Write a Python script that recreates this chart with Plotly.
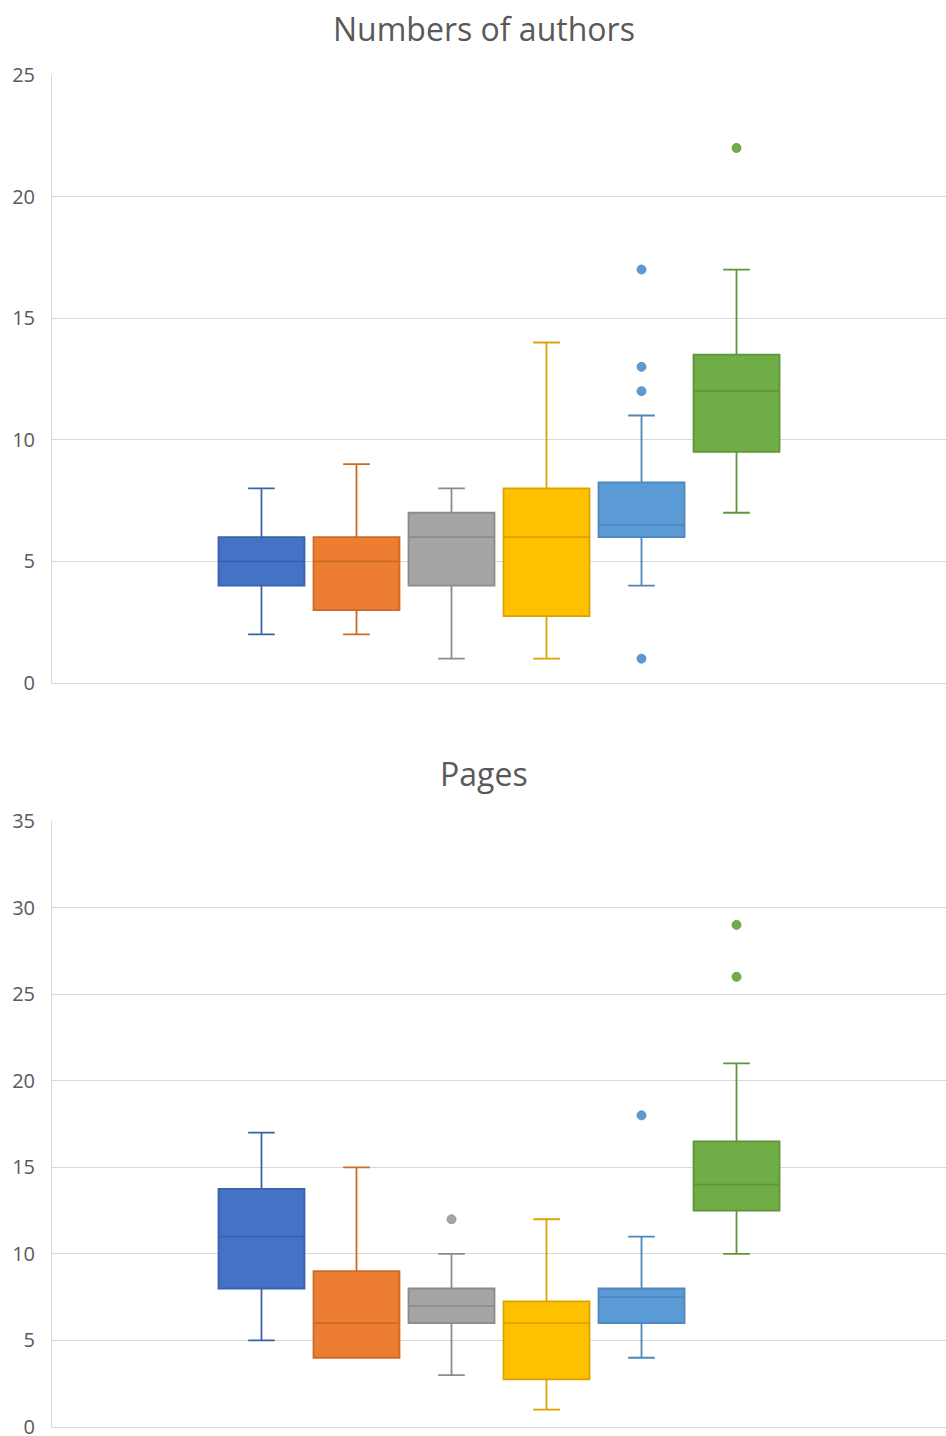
import plotly.graph_objects as go

# ---- data ----
series_colors = ["#4472C4", "#ED7D31", "#A5A5A5", "#FFC000", "#5B9BD5", "#70AD47"]
line_colors = ["#3A62AC", "#CC6A28", "#8C8C8C", "#D9A400", "#4E86BA", "#5F9539"]
positions = [1, 2, 3, 4, 5, 6]

# Numbers of authors
a_low = [2, 2, 1, 1, 4, 7]
a_q1 = [4, 3, 4, 2.75, 6, 9.5]
a_med = [5, 5, 6, 6, 6.5, 12]
a_q3 = [6, 6, 7, 8, 8.25, 13.5]
a_high = [8, 9, 8, 14, 11, 17]
a_outliers = [[], [], [], [], [17, 13, 12, 1], [22]]

# Pages
p_low = [5, 4, 3, 1, 4, 10]
p_q1 = [8, 4, 6, 2.75, 6, 12.5]
p_med = [11, 6, 7, 6, 7.5, 14]
p_q3 = [13.75, 9, 8, 7.25, 8, 16.5]
p_high = [17, 15, 10, 12, 11, 21]
p_outliers = [[], [], [12], [], [18], [29, 26]]

titles = ["Numbers of authors", "Pages"]
y_ticks_top = [0, 5, 10, 15, 20, 25]
y_ticks_bottom = [0, 5, 10, 15, 20, 25, 30, 35]

W, H = 946, 1436
fig = go.Figure()

def add_panel(xa, ya, low, q1, med, q3, high, outs):
    for i in range(6):
        fig.add_trace(go.Box(
            x=[positions[i]], q1=[q1[i]], median=[med[i]], q3=[q3[i]],
            lowerfence=[low[i]], upperfence=[high[i]],
            fillcolor=series_colors[i],
            line=dict(color=line_colors[i], width=1.8),
            whiskerwidth=0.31, width=0.905,
            xaxis=xa, yaxis=ya, showlegend=False, hoverinfo="skip",
        ))
        if outs[i]:
            fig.add_trace(go.Scatter(
                x=[positions[i]] * len(outs[i]), y=outs[i], mode="markers",
                marker=dict(color=series_colors[i], size=9,
                            line=dict(color=line_colors[i], width=0.8)),
                xaxis=xa, yaxis=ya, showlegend=False, hoverinfo="skip",
            ))

add_panel("x", "y", a_low, a_q1, a_med, a_q3, a_high, a_outliers)
add_panel("x2", "y2", p_low, p_q1, p_med, p_q3, p_high, p_outliers)

grid = "#D9D9D9"
tick_font = dict(family="Open Sans, sans-serif", size=20, color="#595959")
xcommon = dict(range=[-1.205, 8.205], showgrid=False, zeroline=False,
               showticklabels=False, showline=True, linecolor=grid, linewidth=1,
               fixedrange=True)
ycommon = dict(showgrid=True, gridcolor=grid, gridwidth=1, zeroline=False,
               showline=True, linecolor=grid, linewidth=1, ticks="",
               tickfont=tick_font, ticklabelstandoff=12, automargin=False,
               ticklabeloverflow="allow")

top_dom = [(H - 683) / H, (H - 75) / H]
bot_dom = [(H - 1427) / H, (H - 821) / H]

fig.update_layout(
    width=W, height=H,
    margin=dict(l=52, r=0, t=0, b=0, pad=0),
    paper_bgcolor="white", plot_bgcolor="white",
    xaxis=dict(domain=[0, 1], anchor="y", **xcommon),
    yaxis=dict(domain=top_dom, anchor="x", range=[-0.0001, 25], tickvals=y_ticks_top, **ycommon),
    xaxis2=dict(domain=[0, 1], anchor="y2", **xcommon),
    yaxis2=dict(domain=bot_dom, anchor="x2", range=[-0.0001, 35], tickvals=y_ticks_bottom, **ycommon),
    annotations=[
        dict(text=titles[0], xref="paper", yref="paper", x=(484 - 52) / 894, y=1 - 28 / H,
             xanchor="center", yanchor="middle", showarrow=False,
             font=dict(family="Open Sans, sans-serif", size=32, color="#595959")),
        dict(text=titles[1], xref="paper", yref="paper", x=(484 - 52) / 894, y=1 - 773 / H,
             xanchor="center", yanchor="middle", showarrow=False,
             font=dict(family="Open Sans, sans-serif", size=32, color="#595959")),
    ],
)

fig.write_html(
    "out.html",
    config={"displayModeBar": False},
    post_script="document.body.style.margin='0';document.body.style.overflow='hidden';",
)
